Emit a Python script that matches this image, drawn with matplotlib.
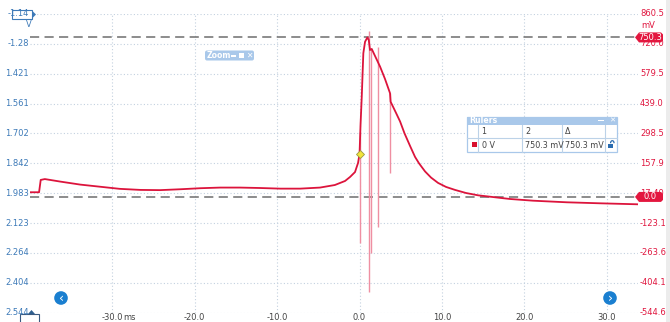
import matplotlib
matplotlib.use("Agg")
import matplotlib.pyplot as plt
from matplotlib.patches import Polygon, Rectangle, Circle, FancyBboxPatch, Arc
from matplotlib.transforms import IdentityTransform

# ---- captured trace (channel A, mV vs ms) ----
time_ms = [-40.0, -38.9, -38.7, -38.2, -36.3, -33.9, -31.5, -29.1, -26.6, -24.2,
           -21.8, -19.3, -16.9, -14.5, -12.1, -9.6, -7.2, -4.8, -3.0, -1.76,
           -1.15, -0.55, -0.18, 0.0, 0.12, 0.27, 0.46, 0.67, 0.95, 1.12,
           1.27, 1.48, 1.88, 2.49, 3.09, 3.70, 3.77, 4.43, 4.92, 5.46,
           6.13, 6.74, 7.22, 7.95, 8.68, 9.53, 10.5, 11.59, 12.92, 14.38,
           16.08, 18.26, 21.05, 25.18, 29.19, 33.8]
trace_mv = [22, 22, 80, 84, 72, 58, 48, 38, 33, 32,
            36, 41, 44, 44, 42, 39, 39, 44, 56, 75,
            94, 117, 160, 202, 338, 472, 676, 730, 750.3, 738,
            691, 696, 663, 613, 555, 488, 448, 395, 355, 299,
            240, 188, 158, 120, 91, 66, 47, 33, 18.5, 7.6,
            0, -9.7, -17.7, -25.3, -30, -34.7]

# short glitches on the trace
spike_t = [0.0, 1.19, 1.36, 2.28, 3.70]
spike_top_mv = [307, 780, 700, 707, 489]
spike_bottom_mv = [-217, -446, -264, -140, 113]

# axes scales
right_ticks_mv = [860.5, 720.0, 579.5, 439.0, 298.5, 157.9, 17.40, -123.1, -263.6, -404.1, -544.6]
right_tick_labels = ["860.5", "720.0", "579.5", "439.0", "298.5", "157.9", "17.40",
                     "-123.1", "-263.6", "-404.1", "-544.6"]
left_tick_labels = ["-1.14", "-1.28", "1.421", "1.561", "1.702", "1.842", "1.983",
                    "2.123", "2.264", "2.404", "2.544"]
x_ticks_ms = [-30, -20, -10, 0, 10, 20, 30]
x_tick_labels = ["-30.0 ms", "-20.0", "-10.0", "0.0", "10.0", "20.0", "30.0"]

ruler_mv = [750.3, 0.0]
ruler_tags = ["750.3", "0.0"]
trigger_t, trigger_mv = 0.0, 202

W, H = 670, 322
TRACE = "#dc143c"
BLUE = "#3d7ab8"
RED_TXT = "#e0163f"
FS = 6.0
plt.rcParams["font.family"] = ["Liberation Sans Narrow", "DejaVu Sans"]

fig = plt.figure(figsize=(W / 100, H / 100), dpi=100)
fig.patch.set_facecolor("white")
PIX = IdentityTransform()


def P(x, y):
    """Pixel position measured from the top-left corner."""
    return (x, H - y)


def add_patch(p):
    fig.patches.append(p)
    p.set_figure(fig)


def ptext(x, y, s, **kw):
    kw.setdefault("fontsize", FS)
    kw.setdefault("zorder", 12)
    return fig.text(*P(x, y), s, transform=PIX, **kw)


L, R, T, B = 30, 638, 14, 312.7
ax = fig.add_axes([L / W, 1 - B / H, (R - L) / W, (B - T) / H])
ax.set_xlim(-40.0, 33.8)
ax.set_ylim(-544.6, 860.5)
for s in ax.spines.values():
    s.set_visible(False)
ax.set_xticks(x_ticks_ms)
ax.set_yticks(right_ticks_mv)
ax.tick_params(length=0, labelleft=False, labelbottom=False)
ax.grid(True, color="#c3d1df", linestyle=(0, (1, 2)), linewidth=0.8)
ax.set_axisbelow(True)

# ruler lines
for v in ruler_mv:
    ax.axhline(v, color="#6e6e6e", linestyle=(0, (6, 3.5)), linewidth=1.1, zorder=2)

# trace and glitches
ax.vlines(spike_t, spike_bottom_mv, spike_top_mv, color="#ef8fa2", linewidth=1.0, zorder=3)
ax.plot(time_ms, trace_mv, color=TRACE, linewidth=1.3, zorder=4)
ax.plot([trigger_t], [trigger_mv], marker="D", markersize=4.2, color="#f3e53a",
        markeredgecolor="#9a9a40", markeredgewidth=0.6, zorder=6)


def ypix(v):
    return H - ax.transData.transform((0, v))[1]


def xpix(t):
    return ax.transData.transform((t, 0))[0]


# tick labels
for v, lab in zip(right_ticks_mv, left_tick_labels):
    ptext(29, ypix(v), lab, ha="right", va="center", color=BLUE)
for v, lab in zip(right_ticks_mv, right_tick_labels):
    ptext(640, ypix(v), lab, ha="left", va="center", color=RED_TXT, zorder=5)
for t, lab in zip(x_ticks_ms, x_tick_labels):
    xp = xpix(t)
    parts = lab.split()
    ptext(xp, 317.5, parts[0], ha="center", va="center", color="#444444")
    if len(parts) > 1:
        ptext(xp + 10.5, 317.5, parts[1], ha="left", va="center", color="#444444")

# unit labels
ptext(28.5, 24.5, "V", ha="center", va="center", color=BLUE)
ptext(641, 25, "mV", ha="left", va="center", color=RED_TXT)

# ruler tags on the right
for v, tag in zip(ruler_mv, ruler_tags):
    yy = ypix(v)
    add_patch(Polygon([P(635, yy), P(639, yy - 5), P(661, yy - 5), P(663, yy - 3),
                       P(663, yy + 3), P(661, yy + 5), P(639, yy + 5)],
                      closed=True, transform=PIX, facecolor="#e3173f",
                      edgecolor="none", zorder=10))
    ptext(650, yy, tag, ha="center", va="center", color="white")

# channel B offset marker (top-left)
add_patch(Rectangle(P(12, 19), 20, 9, transform=PIX, facecolor="white",
                    edgecolor=BLUE, linewidth=0.8, zorder=10))
add_patch(Polygon([P(32, 10.5), P(36, 14.5), P(32, 18.5)], closed=True, transform=PIX,
                  facecolor=BLUE, edgecolor="none", zorder=10))

# bottom-left scale marker
add_patch(Polygon([P(28, 314), P(31.5, 310), P(35, 314)], closed=True, transform=PIX,
                  facecolor="#2f5f8f", edgecolor="none", zorder=10))
add_patch(Rectangle(P(20, 323), 19, 9.5, transform=PIX, facecolor="none",
                    edgecolor="#3a5a80", linewidth=0.8, zorder=10))

# navigation buttons
for cx, ch in [(61, "\u2039"), (610, "\u203a")]:
    add_patch(Circle(P(cx, 298), 6.8, transform=PIX, facecolor="#1a7fd0",
                     edgecolor="none", zorder=10))
    ptext(cx, 298.8, ch, ha="center", va="center", fontsize=9, color="white",
          family="DejaVu Sans")

# zoom widget
add_patch(FancyBboxPatch(P(205, 60.5), 49, 10, boxstyle="round,pad=0,rounding_size=2",
                         transform=PIX, facecolor="#a9c8ea", edgecolor="none", zorder=10))
ptext(207, 55.5, "Zoom", ha="left", va="center", fontsize=5.6, color="white",
      weight="bold")
add_patch(Rectangle(P(231, 56.5), 5, 2, transform=PIX, facecolor="white",
                    edgecolor="none", zorder=11))
add_patch(Rectangle(P(238.5, 58), 5, 5, transform=PIX, facecolor="white",
                    edgecolor="none", zorder=11))
ptext(249, 55.5, "\u2715", ha="center", va="center", fontsize=5.5, color="white",
      family="DejaVu Sans")

# rulers table
RX0, RX1 = 467.3, 616.7
RY0, RY1, RY2, RY3 = 116.5, 124.5, 138.0, 152.0
LINE_C = "#bcd2e8"
add_patch(Rectangle(P(RX0, RY3), RX1 - RX0, RY3 - RY0, transform=PIX, facecolor="white",
                    edgecolor="#a9c8ea", linewidth=0.9, zorder=10))
add_patch(Rectangle(P(RX0, RY1), RX1 - RX0, RY1 - RY0, transform=PIX, facecolor="#a9c8ea",
                    edgecolor="none", zorder=10))
fig.lines.append(plt.Line2D([RX0, RX1], [H - RY2, H - RY2], transform=PIX,
                            color=LINE_C, linewidth=0.8, zorder=11))
for cxp in [478.3, 521.7, 561.7, 605.0]:
    fig.lines.append(plt.Line2D([cxp, cxp], [H - RY1, H - RY3], transform=PIX,
                                color=LINE_C, linewidth=0.8, zorder=11))
ptext(469.5, 120.5, "Rulers", ha="left", va="center", fontsize=5.6, color="white",
      weight="bold")
add_patch(Rectangle(P(598, 121), 6, 1.2, transform=PIX, facecolor="white",
                    edgecolor="none", zorder=11))
ptext(612, 120.5, "\u2715", ha="center", va="center", fontsize=5.3, color="white",
      family="DejaVu Sans")
for xp, lab in [(481.5, "1"), (525, "2"), (565, "\u0394")]:
    ptext(xp, 131.3, lab, ha="left", va="center", fontsize=5.8, color="#444444")
add_patch(Rectangle(P(471.5, 147), 5.5, 5.5, transform=PIX, facecolor="#d8102f",
                    edgecolor="none", zorder=12))
for xp, lab in [(481.5, "0 V"), (525, "750.3 mV"), (565, "750.3 mV")]:
    ptext(xp, 145, lab, ha="left", va="center", fontsize=5.8, color="#444444")
# lock icon
add_patch(Rectangle(P(607.5, 147.5), 5, 4, transform=PIX, facecolor="#2a6cb0",
                    edgecolor="none", zorder=12))
add_patch(Arc(P(612.3, 143.2), 3.5, 5, theta1=0, theta2=180, transform=PIX,
              color="#2a6cb0", linewidth=0.9, zorder=12))

# right scroll strip
add_patch(Rectangle((666, 0), 4, H, transform=PIX, facecolor="#ececec",
                    edgecolor="none", zorder=1))

fig.savefig("out.png", dpi=100, facecolor="white")
